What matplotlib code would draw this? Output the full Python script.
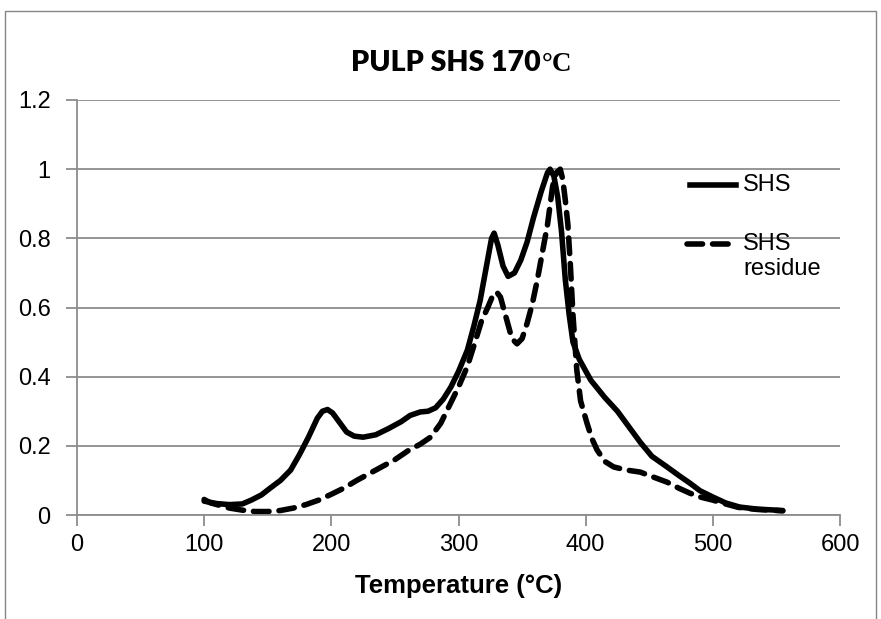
import matplotlib
matplotlib.use("Agg")
import matplotlib.pyplot as plt
from matplotlib.lines import Line2D
from matplotlib.patches import Rectangle

# ---- data ----
shs_T = [100, 110, 120, 130, 137, 145, 152, 160, 168, 175, 182, 189, 193, 197,
         201, 206, 212, 218, 225, 235, 245, 255, 262, 270, 276, 282, 288, 294,
         300, 307, 312, 317, 322, 326, 328, 331, 335, 339, 344, 349, 354, 359,
         365, 370, 372, 375, 378, 381, 384, 387, 390, 395, 404, 415, 425, 435,
         443, 452, 464, 473, 482, 490, 500, 510, 521, 535, 545, 555]
shs_y = [0.040, 0.033, 0.030, 0.032, 0.043, 0.058, 0.078, 0.100, 0.130, 0.175,
         0.225, 0.280, 0.300, 0.305, 0.295, 0.270, 0.240, 0.228, 0.225, 0.232,
         0.250, 0.270, 0.288, 0.298, 0.300, 0.310, 0.335, 0.370, 0.415, 0.477,
         0.545, 0.620, 0.720, 0.800, 0.815, 0.780, 0.720, 0.690, 0.700, 0.737,
         0.790, 0.860, 0.935, 0.990, 1.000, 0.980, 0.920, 0.820, 0.680, 0.580,
         0.500, 0.450, 0.390, 0.340, 0.300, 0.250, 0.210, 0.170, 0.139, 0.115,
         0.092, 0.070, 0.052, 0.035, 0.023, 0.017, 0.015, 0.013]

res_T = [100, 105, 110, 120, 130, 140, 150, 160, 170, 180, 190, 200, 210, 220,
         230, 240, 250, 260, 270, 278, 286, 292, 300, 307, 313, 318, 323, 327,
         330, 333, 336, 339, 342, 346, 350, 354, 358, 362, 366, 370, 374, 377,
         380, 382, 384, 386, 388, 390, 393, 396, 401, 405, 409, 415, 422, 432,
         443, 453, 464, 473, 482, 490, 500, 510, 520, 535, 545, 555]
res_y = [0.045, 0.035, 0.030, 0.020, 0.014, 0.010, 0.010, 0.013, 0.020, 0.030,
         0.043, 0.060, 0.078, 0.100, 0.120, 0.140, 0.160, 0.185, 0.205, 0.225,
         0.265, 0.310, 0.370, 0.430, 0.500, 0.560, 0.600, 0.635, 0.645, 0.630,
         0.590, 0.550, 0.510, 0.495, 0.510, 0.555, 0.610, 0.680, 0.760, 0.840,
         0.950, 0.990, 1.000, 0.970, 0.910, 0.840, 0.720, 0.580, 0.420, 0.330,
         0.266, 0.220, 0.188, 0.155, 0.139, 0.130, 0.124, 0.110, 0.095, 0.078,
         0.063, 0.052, 0.043, 0.032, 0.022, 0.016, 0.014, 0.012]

x_ticks = [0, 100, 200, 300, 400, 500, 600]
y_ticks = [0, 0.2, 0.4, 0.6, 0.8, 1.0, 1.2]
y_tick_labels = ["0", "0.2", "0.4", "0.6", "0.8", "1", "1.2"]
series_labels = ["SHS", "SHS\nresidue"]

# ---- figure ----
W, H = 881, 619
fig = plt.figure(figsize=(W / 100, H / 100), dpi=100)
plt.rcParams['font.family'] = ['Liberation Sans', 'DejaVu Sans']

# outer chart border
fig.patches.append(Rectangle((5 / W, -0.05), (876 - 5) / W, 1.05 - 11 / H,
                             transform=fig.transFigure, fill=False,
                             edgecolor='#868686', linewidth=1.0))

ax = fig.add_axes([77 / W, (H - 515) / H, (840 - 77) / W, 415 / H])
grey = '#8c8c8c'

ax.plot(shs_T, shs_y, color='black', linewidth=4.0, solid_capstyle='round',
        solid_joinstyle='round')
ax.plot(res_T, res_y, color='black', linewidth=4.0, linestyle=(0, (2.8, 1.8)),
        dash_capstyle='round')

ax.set_xlim(0, 600)
ax.set_ylim(0, 1.2)
ax.set_xticks(x_ticks)
ax.set_yticks(y_ticks)
ax.set_yticklabels(y_tick_labels)
ax.tick_params(axis='both', direction='out', length=8, width=1.3, color=grey,
               labelsize=17)
ax.tick_params(axis='y', pad=11)
ax.tick_params(axis='x', pad=6)
ax.grid(axis='y', color=grey, linewidth=1.3)
ax.set_axisbelow(True)
for s in ['top', 'right']:
    ax.spines[s].set_visible(False)
for s in ['left', 'bottom']:
    ax.spines[s].set_color(grey)
    ax.spines[s].set_linewidth(1.3)

ax.set_xlabel("Temperature (°C)", fontsize=18.5, fontweight='bold', labelpad=13)

# title (Calibri-like part + serif degree sign)
split_x = 541 / W
base_y = 1 - 71 / H
fig.text(split_x, base_y, "PULP SHS 170", ha='right', va='baseline',
         fontsize=20.5, fontweight='heavy', family=['Lato', 'DejaVu Sans'])
fig.text(split_x + 1 / W, base_y, "°C", ha='left', va='baseline',
         fontsize=19.5, fontweight='bold', family=['Liberation Serif', 'DejaVu Serif'])

# legend (manual, to mimic first-line alignment)
def ax_y(py):
    return (515 - py) / 415

def ax_x(px):
    return (px - 77) / 763

ax.add_line(Line2D([ax_x(690), ax_x(736)], [ax_y(185), ax_y(185)],
                   transform=ax.transAxes, color='black', linewidth=4.0,
                   clip_on=False))
ax.text(ax_x(743), ax_y(185), series_labels[0], transform=ax.transAxes,
        fontsize=17, va='center', ha='left')
ax.add_line(Line2D([ax_x(687), ax_x(733)], [ax_y(244), ax_y(244)],
                   transform=ax.transAxes, color='black', linewidth=4.0,
                   linestyle=(0, (2.8, 1.8)), dash_capstyle='round',
                   clip_on=False))
ax.text(ax_x(743), ax_y(233), series_labels[1], transform=ax.transAxes,
        fontsize=17, va='top', ha='left', linespacing=1.15)

fig.savefig("out.png", dpi=100)
